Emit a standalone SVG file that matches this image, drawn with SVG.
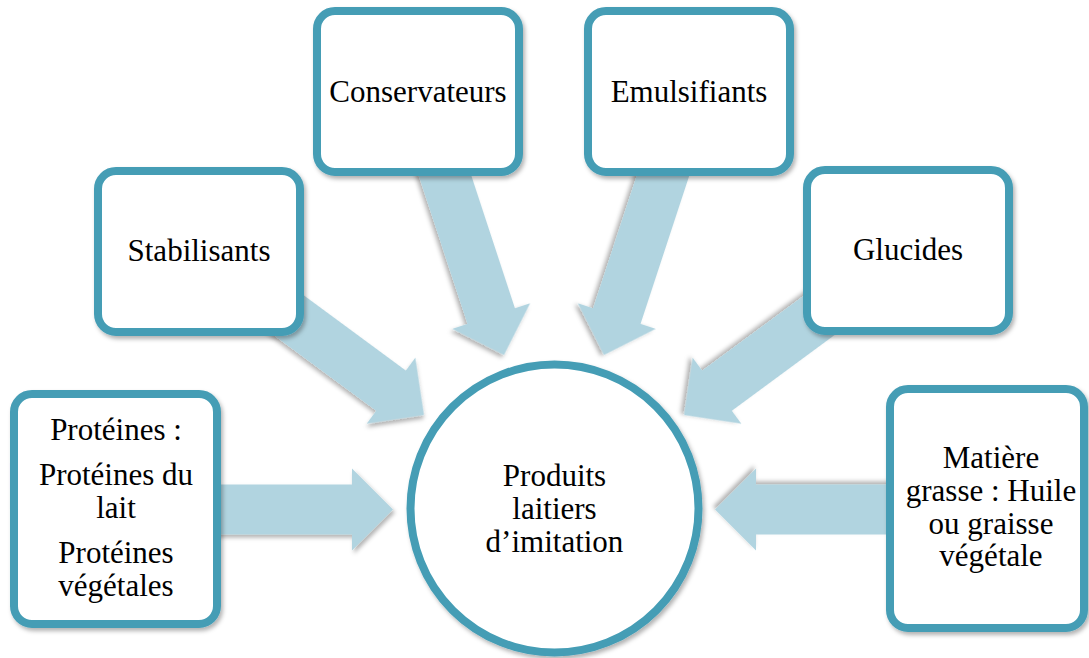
<svg xmlns="http://www.w3.org/2000/svg" width="1089" height="658" viewBox="0 0 1089 658">
  <defs>
    <filter id="shadow" x="-20%" y="-20%" width="140%" height="140%">
      <feDropShadow dx="2" dy="3" stdDeviation="2" flood-color="#000" flood-opacity="0.3"/>
    </filter>
    <!-- block arrow pointing along +x, tip at the origin -->
    <path id="arrowLong" d="M0,0 L-41,-41 L-41,-25 L-230,-25 L-230,25 L-41,25 L-41,41 Z"/>
    <path id="arrowMid" d="M0,0 L-41,-41 L-41,-25 L-200,-25 L-200,25 L-41,25 L-41,41 Z"/>
  </defs>
  <style>
    .arrow { fill: #b1d4e0; filter: url(#shadow); }
    .box { fill: #ffffff; stroke: #459db5; stroke-width: 8; filter: url(#shadow); }
    .label { font-family: "Liberation Serif", "Times New Roman", serif; font-size: 31px; fill: #000; text-anchor: middle; }
  </style>
  <rect width="1089" height="658" fill="#ffffff"/>

  <g id="connectors">
    <use href="#arrowMid" class="arrow" transform="translate(393,509.5)"/>
    <use href="#arrowMid" class="arrow" transform="translate(715,509.5) rotate(180)"/>
    <use href="#arrowMid" class="arrow" transform="translate(424,415) rotate(36.4)"/>
    <use href="#arrowMid" class="arrow" transform="translate(684,415) rotate(143.6)"/>
    <use href="#arrowLong" class="arrow" transform="translate(504,355) rotate(71.8)"/>
    <use href="#arrowLong" class="arrow" transform="translate(604,355) rotate(108.2)"/>
  </g>

  <g id="node-conservateurs">
    <rect class="box" x="317" y="11" width="202" height="161" rx="18"/>
    <text class="label" x="418" y="102">Conservateurs</text>
  </g>
  <g id="node-emulsifiants">
    <rect class="box" x="588" y="11" width="202" height="161" rx="18"/>
    <text class="label" x="689" y="102">Emulsifiants</text>
  </g>
  <g id="node-stabilisants">
    <rect class="box" x="98" y="171" width="202" height="161" rx="18"/>
    <text class="label" x="199" y="261">Stabilisants</text>
  </g>
  <g id="node-glucides">
    <rect class="box" x="807" y="170" width="202" height="161" rx="18"/>
    <text class="label" x="908" y="260">Glucides</text>
  </g>
  <g id="node-proteines">
    <rect class="box" x="14" y="394" width="203" height="230" rx="18"/>
    <text class="label" x="116" y="440">Protéines :</text>
    <text class="label" x="116" y="485">Protéines du</text>
    <text class="label" x="116" y="518">lait</text>
    <text class="label" x="116" y="563">Protéines</text>
    <text class="label" x="116" y="596">végétales</text>
  </g>
  <g id="node-matiere-grasse">
    <rect class="box" x="890" y="389" width="194" height="239" rx="18"/>
    <text class="label" x="991" y="468">Matière</text>
    <text class="label" x="991" y="501">grasse : Huile</text>
    <text class="label" x="991" y="534">ou graisse</text>
    <text class="label" x="991" y="566">végétale</text>
  </g>
  <g id="node-produits">
    <circle class="box" cx="554.5" cy="508.5" r="144"/>
    <text class="label" x="554.5" y="486">Produits</text>
    <text class="label" x="554.5" y="519">laitiers</text>
    <text class="label" x="554.5" y="552">d’imitation</text>
  </g>
</svg>
